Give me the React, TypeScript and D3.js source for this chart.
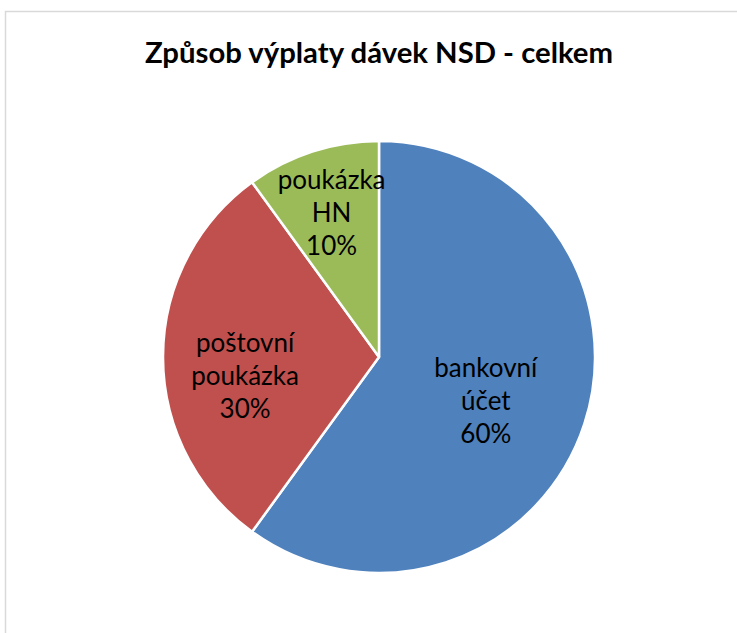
import React from "react";
import * as d3 from "d3";

const categories = ["bankovní účet", "poštovní poukázka", "poukázka HN"];
const values = [60, 30, 10];
const labelLines = [["bankovní", "účet", "60%"], ["poštovní", "poukázka", "30%"], ["poukázka", "HN", "10%"]];
const colors = ["#4F81BD", "#C0504D", "#9BBB59"];
const labelRadiusFactor = [0.52, 0.62, 0.71];
const labelDy = [9, 19, 2];
const title = "Způsob výplaty dávek NSD - celkem";

const W = 737;
const H = 633;
const cx = 379;
const cy = 357;
const R = 216;

export default function App() {
  const pie = d3.pie<number>().sort(null).value((d) => d)(values);
  const arc = d3.arc<d3.PieArcDatum<number>>().innerRadius(0).outerRadius(R);
  return (
    <svg width={W} height={H} style={{ position: "absolute", left: 0, top: 0 }}>
      <rect x={0} y={0} width={W} height={H} fill="#fff" />
      <rect x={5.5} y={11.5} width={W + 20} height={H + 20} fill="#fff" stroke="#d9d9d9" strokeWidth={1.5} />
      <text x={379} y={63} textAnchor="middle" fontFamily="Lato" fontWeight="bold" fontSize={29.3} fill="#000">
        {title}
      </text>
      <g transform={`translate(${cx},${cy})`}>
        {pie.map((p, i) => (
          <path key={categories[i]} d={arc(p) || ""} fill={colors[i]} stroke="#fff" strokeWidth={2.5} strokeLinejoin="round" />
        ))}
        {pie.map((p, i) => {
          const lr = R * labelRadiusFactor[i];
          const c = d3.arc<d3.PieArcDatum<number>>().innerRadius(lr).outerRadius(lr).centroid(p);
          const lh = 33;
          const n = labelLines[i].length;
          return (
            <text key={"l" + i} textAnchor="middle" fontFamily="Lato" fontSize={26} fill="#000">
              {labelLines[i].map((t, j) => (
                <tspan key={j} x={c[0]} y={c[1] + labelDy[i] + 9 + (j - (n - 1) / 2) * lh}>
                  {t}
                </tspan>
              ))}
            </text>
          );
        })}
      </g>
    </svg>
  );
}
